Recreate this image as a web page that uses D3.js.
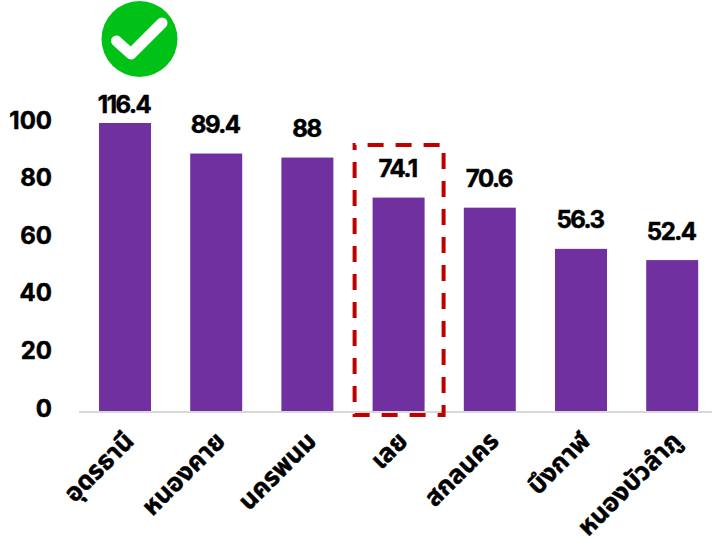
<!DOCTYPE html>
<html>
<head>
<meta charset="utf-8">
<script src="https://cdn.jsdelivr.net/npm/d3@7"></script>
<style>
    html, body { margin: 0; padding: 0; background: #fff; }
    svg { display: block; }
    text { font-family: "Noto Sans", "Noto Sans Thai", "DejaVu Sans", sans-serif; font-weight: 700; fill: #000; stroke: #000; stroke-width: 0.5px; }
</style>
</head>
<body>
<div id="chart"></div>
<script>
const provinces = ['อุดรธานี', 'หนองคาย', 'นครพนม', 'เลย', 'สกลนคร', 'บึงกาฬ', 'หนองบัวลำภู'];
const rates = [116.4, 89.4, 88, 74.1, 70.6, 56.3, 52.4];
const yTicks = [0, 20, 40, 60, 80, 100];

const width = 712, height = 543;
const svg = d3.select('#chart').append('svg')
    .attr('width', width)
    .attr('height', height);

const x = d3.scaleBand()
    .domain(provinces)
    .range([79.4, 717.8])
    .paddingInner(0.43)
    .paddingOuter(0.215);

// the axis stops at 100, the first bar is cut off there
const y = d3.scaleLinear()
    .domain([0, 100])
    .range([411, 123])
    .clamp(true);

// y axis
const yAxis = d3.axisLeft(y).tickValues(yTicks).tickSize(0).tickPadding(0);
const yG = svg.append('g')
    .attr('transform', 'translate(52,-2.5)')
    .call(yAxis);
yG.select('.domain').remove();
yG.selectAll('text')
    .style('font-size', '24px')
    .style('font-family', 'Inter, "Noto Sans", sans-serif');

// bars
svg.selectAll('.bar')
    .data(rates)
    .enter().append('rect')
    .attr('class', 'bar')
    .attr('x', (d, i) => x(provinces[i]))
    .attr('y', d => y(d))
    .attr('width', x.bandwidth())
    .attr('height', d => y(0) - y(d))
    .attr('fill', '#7030a0');

// baseline
svg.append('line')
    .attr('x1', 79).attr('x2', width)
    .attr('y1', y(0) + 1).attr('y2', y(0) + 1)
    .attr('stroke', '#d9d9d9')
    .attr('stroke-width', 2);

// value labels
svg.selectAll('.value')
    .data(rates)
    .enter().append('text')
    .attr('class', 'value')
    .attr('x', (d, i) => x(provinces[i]) + x.bandwidth() / 2 - 1)
    .attr('y', d => y(d) - (d > 100 ? 20 : 30))
    .attr('dy', '0.4em')
    .attr('text-anchor', 'middle')
    .style('font-size', '24px')
    .style('font-family', 'Inter, "Noto Sans", sans-serif')
    .style('letter-spacing', '-1.5px')
    .text(d => d);

// category labels, rotated
svg.selectAll('.cat')
    .data(provinces)
    .enter().append('text')
    .attr('class', 'cat')
    .attr('transform', d => `translate(${x(d) + x.bandwidth() / 2 + 4},436) rotate(-45)`)
    .attr('text-anchor', 'end')
    .attr('dy', '0.36em')
    .style('font-size', '25.5px')
    .text(d => d);

// dashed box around เลย
const boxX = x('เลย') + x.bandwidth() / 2;
svg.append('rect')
    .attr('x', boxX - 44)
    .attr('y', 145)
    .attr('width', 89)
    .attr('height', 270)
    .attr('fill', 'none')
    .attr('stroke', '#c00000')
    .attr('stroke-width', 4)
    .attr('stroke-dasharray', '16 12')
    .attr('stroke-dashoffset', 15);

// check badge above the first bar
const badge = svg.append('g')
    .attr('transform', `translate(${x(provinces[0]) + x.bandwidth() / 2 + 14.5},39)`);
badge.append('circle').attr('r', 38).attr('fill', '#00c116');
badge.append('path')
    .attr('d', 'M-23,2 L-8.5,15 L22.5,-16')
    .attr('fill', 'none')
    .attr('stroke', '#fff')
    .attr('stroke-width', 11)
    .attr('stroke-linecap', 'round')
    .attr('stroke-linejoin', 'round');
</script>
</body>
</html>
